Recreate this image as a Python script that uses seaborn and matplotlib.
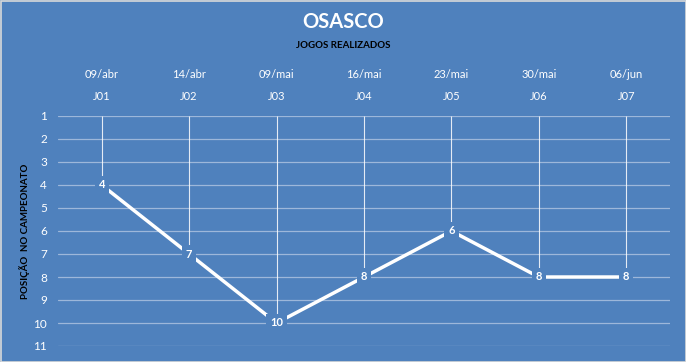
import matplotlib
matplotlib.use("Agg")
import matplotlib.pyplot as plt
import seaborn as sns
import pandas as pd
from matplotlib.patches import Rectangle

jogos = ["J01", "J02", "J03", "J04", "J05", "J06", "J07"]
datas = ["09/abr", "14/abr", "09/mai", "16/mai", "23/mai", "30/mai", "06/jun"]
posicao = [4, 7, 10, 8, 6, 8, 8]

azul = "#4F81BD"
df = pd.DataFrame({"idx": range(len(jogos)), "pos": posicao})

sns.set_style("white")
plt.rcParams["font.family"] = ["Lato", "DejaVu Sans"]

fig = plt.figure(figsize=(6.86, 3.62), dpi=100, facecolor=azul)
ax = fig.add_axes([58 / 686, 16 / 362, 612 / 686, 230 / 362])
ax.set_facecolor(azul)

# linhas verticais do topo ate o ponto
ax.vlines(df["idx"], 1, df["pos"], color="white", lw=0.8, alpha=0.85, zorder=2)

sns.lineplot(data=df, x="idx", y="pos", ax=ax, color="white", lw=2.5, zorder=3)

for i, p in zip(df["idx"], df["pos"]):
    ax.text(i, p, str(p), color="white", fontsize=8, fontweight="bold",
            ha="center", va="center", zorder=4,
            bbox=dict(boxstyle="square,pad=0.35", fc=azul, ec="none"))

ax.set_xlim(-0.5, len(jogos) - 0.5)
ax.set_ylim(11, 1)
ax.set_yticks(range(1, 12))
ax.set_yticklabels([str(v) for v in range(1, 12)], color="white", fontsize=8.5)
ax.grid(axis="y", color="#9DB7DA", lw=0.9)
ax.grid(axis="x", visible=False)
ax.set_axisbelow(True)
for s in ax.spines.values():
    s.set_visible(False)

ax.xaxis.tick_top()
ax.set_xticks(range(len(jogos)))
ax.set_xticklabels(jogos, color="white", fontsize=8)
ax.tick_params(axis="x", length=0, pad=10)
ax.tick_params(axis="y", length=0, pad=8)
ax.set_xlabel("")
ax.set_ylabel("POSIÇÃO  NO CAMPEONATO", fontsize=7, fontweight="bold", color="black")
ax.yaxis.set_label_coords((30 - 58) / 612, 0.5)

sec = ax.secondary_xaxis("top")
sec.set_xticks(range(len(datas)))
sec.set_xticklabels(datas, color="white", fontsize=8)
sec.tick_params(axis="x", length=0, pad=26)
for s in sec.spines.values():
    s.set_visible(False)

fig.text(0.5, 1 - 22 / 362, "OSASCO", ha="center", va="center", color="white",
         fontsize=14.5, fontweight="bold")
fig.text(0.5, 1 - 45 / 362, "JOGOS REALIZADOS", ha="center", va="center", color="black",
         fontsize=7, fontweight="bold")

fig.patches.append(Rectangle((0.5 / 686, 0.5 / 362), 1 - 1 / 686, 1 - 1 / 362,
                             transform=fig.transFigure, fill=False,
                             ec="#D9D9D9", lw=1.2))

fig.savefig("out.png", dpi=100, facecolor=azul)
